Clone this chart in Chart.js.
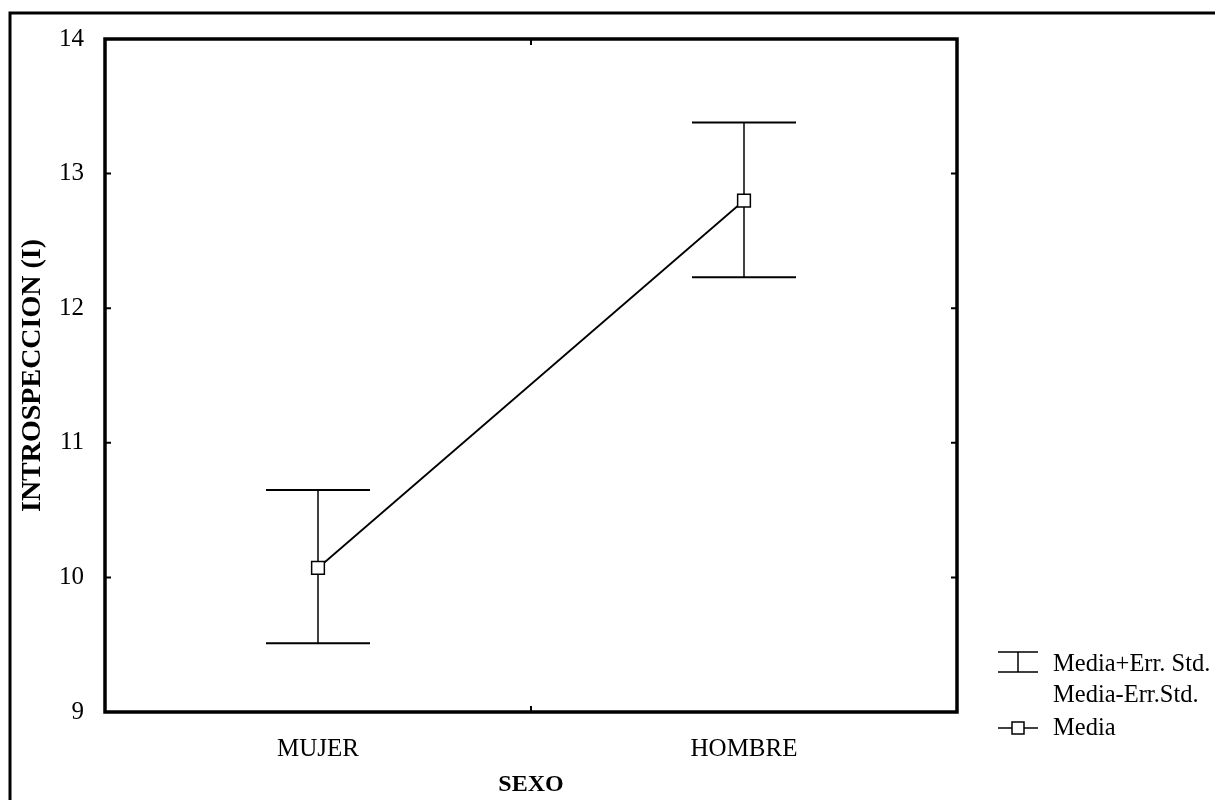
<!DOCTYPE html>
<html>
<head>
<meta charset="utf-8">
<title>INTROSPECCION (I) por SEXO</title>
<script src="https://cdn.jsdelivr.net/npm/chart.js@4/dist/chart.umd.min.js"></script>
<style>
  html, body { margin: 0; padding: 0; background: #fff; }
  #wrap { position: relative; width: 1215px; height: 800px; }
</style>
</head>
<body>
<div id="wrap"><canvas id="meanChart" width="1215" height="800"></canvas></div>
<script>
// Data
const categories = ['MUJER', 'HOMBRE'];
const meanValues = [10.07, 12.80];
const upperValues = [10.65, 13.38];
const lowerValues = [9.51, 12.23];
const yTicks = [9, 10, 11, 12, 13, 14];
const legendLabels = ['Media+Err. Std.', 'Media-Err.Std.', 'Media'];

const serif = '"Liberation Serif", "Times New Roman", serif';

// Plugin: outer frame, plot box, inner ticks, error bars, legend
const decorPlugin = {
  id: 'decor',
  beforeDatasetsDraw(chart) {
    const ctx = chart.ctx;
    const x = chart.scales.x;
    const y = chart.scales.y;
    const area = chart.chartArea;

    ctx.save();
    ctx.strokeStyle = '#000';

    // outer frame (left + top only)
    ctx.lineWidth = 3;
    ctx.beginPath();
    ctx.moveTo(10, 800);
    ctx.lineTo(10, 13);
    ctx.lineTo(1215, 13);
    ctx.stroke();

    // plot box
    ctx.lineWidth = 3.5;
    ctx.strokeRect(area.left, area.top, area.right - area.left, area.bottom - area.top);

    // inner ticks on left/right
    ctx.lineWidth = 2;
    yTicks.slice(1, -1).forEach(v => {
      const py = y.getPixelForValue(v);
      ctx.beginPath();
      ctx.moveTo(area.left, py);
      ctx.lineTo(area.left + 6, py);
      ctx.moveTo(area.right, py);
      ctx.lineTo(area.right - 6, py);
      ctx.stroke();
    });

    // inner tick between the categories, top and bottom
    const mid = (x.getPixelForValue(0) + x.getPixelForValue(1)) / 2;
    ctx.beginPath();
    ctx.moveTo(mid, area.bottom);
    ctx.lineTo(mid, area.bottom - 6);
    ctx.moveTo(mid, area.top);
    ctx.lineTo(mid, area.top + 6);
    ctx.stroke();

    // error bars
    const capHalf = 52;
    categories.forEach((c, i) => {
      const px = x.getPixelForValue(i);
      const top = y.getPixelForValue(upperValues[i]);
      const bot = y.getPixelForValue(lowerValues[i]);
      ctx.lineWidth = 1.5;
      ctx.beginPath();
      ctx.moveTo(px, top);
      ctx.lineTo(px, bot);
      ctx.stroke();
      ctx.lineWidth = 2;
      ctx.beginPath();
      ctx.moveTo(px - capHalf, top);
      ctx.lineTo(px + capHalf, top);
      ctx.moveTo(px - capHalf, bot);
      ctx.lineTo(px + capHalf, bot);
      ctx.stroke();
    });
    ctx.restore();
  },
  afterDraw(chart) {
    const ctx = chart.ctx;
    ctx.save();
    ctx.strokeStyle = '#000';
    ctx.fillStyle = '#000';

    // legend symbol: error bar
    ctx.lineWidth = 1.5;
    ctx.beginPath();
    ctx.moveTo(998, 652);
    ctx.lineTo(1038, 652);
    ctx.moveTo(998, 672);
    ctx.lineTo(1038, 672);
    ctx.moveTo(1018, 652);
    ctx.lineTo(1018, 672);
    ctx.stroke();

    // legend symbol: mean line + square
    ctx.beginPath();
    ctx.moveTo(998, 728);
    ctx.lineTo(1038, 728);
    ctx.stroke();
    ctx.fillStyle = '#fff';
    ctx.fillRect(1012, 722, 12, 12);
    ctx.strokeRect(1012, 722, 12, 12);

    // legend text
    ctx.fillStyle = '#000';
    ctx.font = '24.5px ' + serif;
    ctx.textBaseline = 'middle';
    ctx.textAlign = 'left';
    ctx.fillText(legendLabels[0], 1053, 665);
    ctx.fillText(legendLabels[1], 1053, 696);
    ctx.fillText(legendLabels[2], 1053, 729);
    ctx.restore();
  }
};

// Function to initialize the chart
function initMeanChart() {
  const ctx = document.getElementById('meanChart').getContext('2d');

  new Chart(ctx, {
    type: 'line',
    data: {
      labels: categories,
      datasets: [{
        label: 'Media',
        data: meanValues,
        borderColor: '#000',
        borderWidth: 1.8,
        backgroundColor: '#fff',
        pointStyle: 'rect',
        pointRadius: 9,
        pointBorderWidth: 1.5,
        pointBackgroundColor: '#fff',
        pointBorderColor: '#000',
        tension: 0
      }]
    },
    plugins: [decorPlugin],
    options: {
      responsive: false,
      animation: false,
      layout: {
        padding: { top: 39, right: 258, bottom: 0, left: 0 }
      },
      plugins: {
        legend: { display: false },
        tooltip: { enabled: false }
      },
      scales: {
        x: {
          type: 'category',
          offset: true,
          grid: { display: false },
          border: { display: false },
          ticks: {
            color: '#000',
            padding: 14,
            font: { family: serif, size: 25 }
          },
          title: {
            display: true,
            text: 'SEXO',
            color: '#000',
            padding: { top: 0, bottom: 1 },
            font: { family: serif, size: 24, weight: 'bold' }
          },
          afterFit(scale) { scale.height = 88; }
        },
        y: {
          min: 9,
          max: 14,
          grid: { display: false },
          border: { display: false },
          afterBuildTicks(scale) {
            scale.ticks = yTicks.map(v => ({ value: v }));
          },
          ticks: {
            color: '#000',
            padding: 13,
            font: { family: serif, size: 25 }
          },
          title: {
            display: true,
            text: 'INTROSPECCION (I)',
            color: '#000',
            padding: { top: 16, bottom: 0 },
            font: { family: serif, size: 28, weight: 'bold' }
          },
          afterFit(scale) { scale.width = 105; }
        }
      }
    }
  });
}

document.addEventListener('DOMContentLoaded', () => {
  initMeanChart();
});
</script>
</body>
</html>
